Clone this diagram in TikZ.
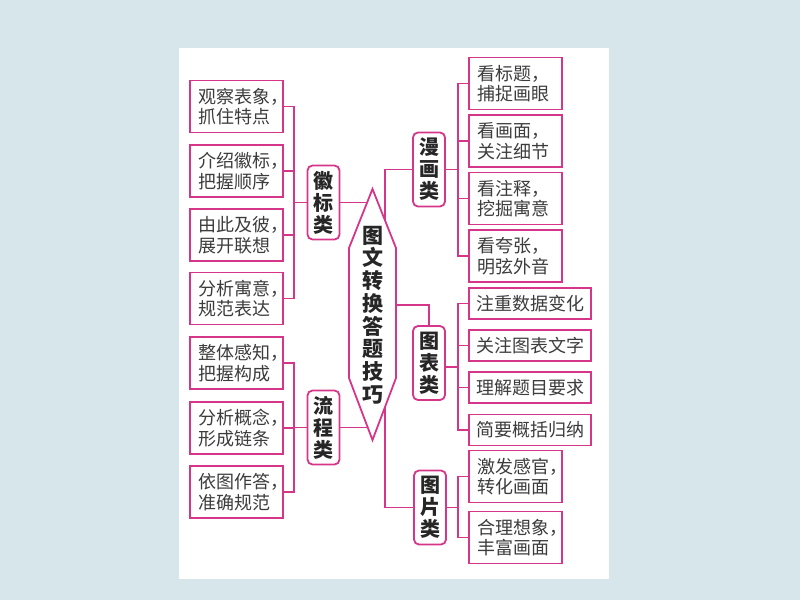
\documentclass[tikz,border=0pt]{standalone}
\usepackage{fontspec}
\newfontfamily\cjk{Noto Sans CJK SC}
\usetikzlibrary{backgrounds}
\definecolor{bgblue}{RGB}{214,230,234}
\definecolor{pk}{RGB}{214,54,137}
\definecolor{txt}{RGB}{60,60,60}
\newcommand\twoline[2]{\hspace*{7pt}#1\\\hspace*{7pt}#2}
\begin{document}
\begin{tikzpicture}[x=1pt,y=-1pt,
  link/.style={draw=pk, line width=1.8pt},
  leaf/.style={draw=pk, line width=1.8pt, fill=white, minimum width=93pt, minimum height=52pt,
    text width=91pt, inner xsep=1pt, inner ysep=0pt, align=left, text=txt,
    font=\cjk\fontsize{18}{20.5}\selectfont},
  wide/.style={leaf, minimum width=122pt, minimum height=31pt, text width=108pt, inner xsep=7pt,
    font=\cjk\fontsize{18}{20}\selectfont},
  cat/.style={draw=pk, line width=1.8pt, fill=white, rounded corners=5pt, minimum width=32pt,
    minimum height=74pt, inner sep=0pt, align=center, text=black!85,
    font=\cjk\bfseries\fontsize{20}{22}\selectfont},
  hexbox/.style={draw=pk, line width=1.8pt, fill=white}]
\useasboundingbox (0,0) rectangle (800,600);

% left leaves
\node[leaf] (L1) at (236.5,106.5) {\twoline{观察表象，}{抓住特点}};
\node[leaf] (L2) at (236.5,171) {\twoline{介绍徽标，}{把握顺序}};
\node[leaf] (L3) at (236.5,235) {\twoline{由此及彼，}{展开联想}};
\node[leaf] (L4) at (236.5,298.5) {\twoline{分析寓意，}{规范表达}};
\node[leaf] (F1) at (236.5,363) {\twoline{整体感知，}{把握构成}};
\node[leaf] (F2) at (236.5,428) {\twoline{分析概念，}{形成链条}};
\node[leaf] (F3) at (236.5,492) {\twoline{依图作答，}{准确规范}};

% categories
\node[cat] (hui) at (323.5,202.5) {徽\\标\\类};
\node[cat] (liu) at (323.5,427.5) {流\\程\\类};
\node[cat] (man) at (429,169.5) {漫\\画\\类};
\node[cat] (tub) at (429,363) {图\\表\\类};
\node[cat] (tup) at (430,507.5) {图\\片\\类};

% right leaves
\node[leaf] (M1) at (515.5,83.5) {\twoline{看标题，}{捕捉画眼}};
\node[leaf] (M2) at (515.5,141) {\twoline{看画面，}{关注细节}};
\node[leaf] (M3) at (515.5,198.5) {\twoline{看注释，}{挖掘寓意}};
\node[leaf] (M4) at (515.5,256) {\twoline{看夸张，}{明弦外音}};
\node[wide] (T1) at (530,303.5) {注重数据变化};
\node[wide] (T2) at (530,345.5) {关注图表文字};
\node[wide] (T3) at (530,387.5) {理解题目要求};
\node[wide] (T4) at (530,430) {简要概括归纳};
\node[leaf] (P1) at (515.5,476.5) {\twoline{激发感官，}{转化画面}};
\node[leaf] (P2) at (515.5,537.5) {\twoline{合理想象，}{丰富画面}};

% hexagon
\coordinate (hA) at (372.5,189);
\coordinate (hB) at (396,248);
\coordinate (hC) at (396,378);
\coordinate (hD) at (372.5,440);
\coordinate (hE) at (349,378);
\coordinate (hF) at (349,248);
\draw[hexbox] (hA) -- (hB) -- (hC) -- (hD) -- (hE) -- (hF) -- cycle;
\node[inner sep=0pt, align=center, text=black!85, font=\cjk\bfseries\fontsize{21}{22.7}\selectfont]
  (hex) at (372.5,315) {图\\文\\转\\换\\答\\题\\技\\巧};

\coordinate (lx) at (294,0);
\coordinate (rt) at (385,0);
\coordinate (rx) at (458,0);
\coordinate (tbj) at (429,305);

\begin{scope}[on background layer]
  \fill[bgblue] (0,0) rectangle (800,600);
  \fill[white] (179,48) rectangle (609,579);
  % left brackets
  \draw[link] (L1.east) -- (L1.east -| lx) -- (L4.east -| lx) -- (L4.east);
  \draw[link] (L2.east) -- (L2.east -| lx);
  \draw[link] (L3.east) -- (L3.east -| lx);
  \draw[link] (hui.west) -- (hui.west -| lx);
  \draw[link] (F1.east) -- (F1.east -| lx) -- (F3.east -| lx) -- (F3.east);
  \draw[link] (F2.east) -- (F2.east -| lx);
  \draw[link] (liu.west) -- (liu.west -| lx);
  % to hexagon
  \draw[link] (hui.east) -- (hui.east -| hex.center);
  \draw[link] (liu.east) -- (liu.east -| hex.center);
  % right trunk
  \draw[link] (man.west) -- (man.west -| rt) -- (tup.west -| rt) -- (tup.west);
  \draw[link] (hex.center |- tbj) -- (tbj) -- (tub.north);
  % right brackets
  \draw[link] (M1.west) -- (M1.west -| rx) -- (M4.west -| rx) -- (M4.west);
  \draw[link] (M2.west) -- (M2.west -| rx);
  \draw[link] (M3.west) -- (M3.west -| rx);
  \draw[link] (man.east) -- (man.east -| rx);
  \draw[link] (T1.west) -- (T1.west -| rx) -- (T4.west -| rx) -- (T4.west);
  \draw[link] (T2.west) -- (T2.west -| rx);
  \draw[link] (T3.west) -- (T3.west -| rx);
  \draw[link] (tub.east |- 0,367) -- (rx |- 0,367);
  \draw[link] (P1.west) -- (P1.west -| rx) -- (P2.west -| rx) -- (P2.west);
  \draw[link] (tup.east) -- (tup.east -| rx);
\end{scope}
\end{tikzpicture}
\end{document}
